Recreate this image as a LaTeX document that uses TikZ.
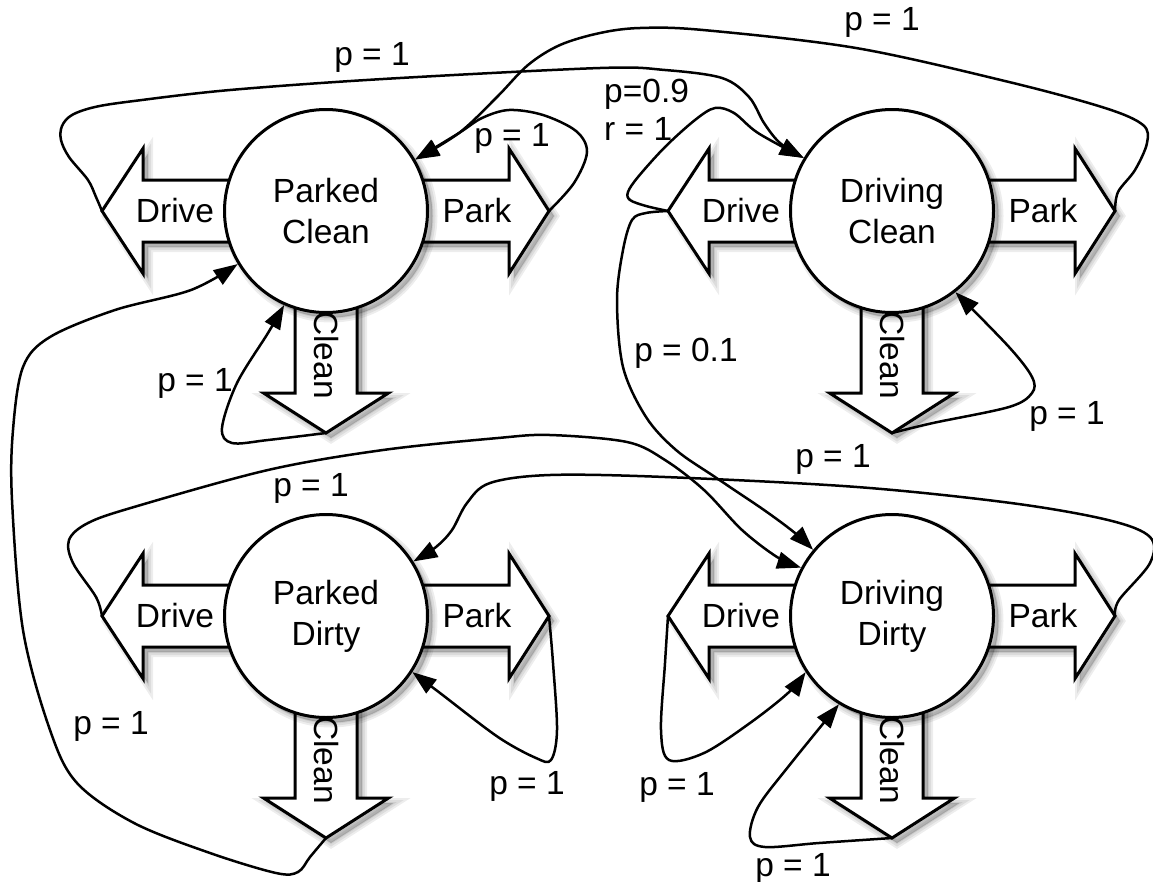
\documentclass[tikz,border=0pt]{standalone}
\usepackage{fontspec}
\setmainfont{Liberation Sans}
\usetikzlibrary{arrows.meta}

\newcommand\statefont{\fontsize{33.5}{41}\selectfont}

\tikzset{
  % soft grey shadow below and right of a shape, built from a few
  % translucent offset copies of the outline
  shadowcopy/.style={preaction={draw=black, fill=black, opacity=0.07,
      line width=#1, transform canvas={shift={(5pt,-5pt)}}}},
  softshadow/.style={shadowcopy=10pt, shadowcopy=6pt, shadowcopy=2pt},
  state/.style={circle, draw, line width=3pt, fill=white, minimum size=203pt,
      inner sep=0pt, align=center, font=\statefont, softshadow},
  blockarrow/.style={draw, line width=3pt, fill=white, line join=miter,
      softshadow},
  armlabel/.style={font=\statefont, inner sep=0pt},
  prob/.style={font=\statefont, inner sep=0pt},
  edge/.style={line width=2.5pt, -{Triangle[length=24pt,width=17pt]},
      line join=round},
}

% one state: block arrows for the three actions, then the state circle
% #1 name, #2 x, #3 y, #4 caption
\newcommand\carstate[4]{%
  \begin{scope}[shift={(#2,#3)}]
    \draw[blockarrow] (0,-31) -- (-183,-31) -- (-183,-62.5) -- (-224,0)
      -- (-183,62.5) -- (-183,31) -- (0,31) -- cycle;
    \draw[blockarrow] (0,-31) -- (183,-31) -- (183,-62.5) -- (223,0)
      -- (183,62.5) -- (183,31) -- (0,31) -- cycle;
    \draw[blockarrow] (-31,0) -- (-31,182) -- (-62.5,182) -- (0,222)
      -- (62.5,182) -- (31,182) -- (31,0) -- cycle;
    \coordinate (#1D) at (-224,0);
    \coordinate (#1P) at (223,0);
    \coordinate (#1C) at (0,222);
    \node[armlabel] (#1Dl) at (-151,0) {Drive};
    \node[armlabel] (#1Pl) at (151,0) {Park};
    \node[armlabel, rotate=-90] (#1Cl) at (0,144) {Clean};
    \node[state] (#1) at (0,0) {#4};
  \end{scope}}

\begin{document}
\begin{tikzpicture}[x=1pt, y=-1pt]
\useasboundingbox (0,0) rectangle (1153,881);

\carstate{pc}{326}{211}{Parked\\Clean}
\carstate{dc}{892}{211}{Driving\\Clean}
\carstate{pd}{326}{616}{Parked\\Dirty}
\carstate{dd}{892}{616}{Driving\\Dirty}

% transitions out of Parked Clean
\draw[edge] plot[smooth, tension=0.55] coordinates {(pcD) (96,197) (88,180)
  (69,157) (61,140) (62,126) (72,115) (95,107) (134,101) (230,90) (383,79)
  (600,68) (665,70) (722,78) (749,97) (764,123) (780,143) (dc.149)};
\draw[edge] plot[smooth, tension=0.55] coordinates {(pcP) (574,183) (587,152)
  (576,131) (543,115) (509,110) (482,118) (459,133) (pc.30)};
\draw[edge] plot[smooth, tension=0.55] coordinates {(pcC) (268,440) (232,443)
  (222,428) (237,383) (268,333) (pc.246)};

% transitions out of Driving Clean
\draw[edge] plot[smooth, tension=0.55] coordinates {(dcP) (1118,192)
  (1135,170) (1147,143) (1143,125) (1105,108) (1009,82) (856,48) (703,30)
  (640,28) (600,33) (560,45) (528,65) (497,97) (459,133) (pc.30)};
\draw[edge] plot[smooth, tension=0.55] coordinates {(dcD) (646,206) (630,200)
  (628,192) (638,177) (665,147) (695,120) (715,108) (734,113) (758,133)
  (dc.149)};
\draw[edge] plot[smooth, tension=0.55] coordinates {(dcD) (646,213) (632,220)
  (623,250) (617,300) (623,367) (646,417) (676,450) (715,477) (764,510)
  (795,533) (dd.140)};
\draw[edge] plot[smooth, tension=0.55] coordinates {(dcC) (933,423)
  (1009,407) (1032,393) (1032,377) (1009,347) (dc.308)};

% transitions out of Parked Dirty
\draw[edge] plot[smooth, tension=0.55] coordinates {(pdD) (96,597) (73,563)
  (69,540) (88,523) (134,507) (268,470) (383,450) (498,438) (550,435)
  (627,442) (665,460) (704,490) (742,530) (777,557) (dd.152)};
\draw[edge] plot[smooth, tension=0.55] coordinates {(pdP) (553,663)
  (557,730) (551,760) (536,758) (498,737) (440,693) (pd.327)};
\draw[edge] plot[smooth, tension=0.55] coordinates {(pdC) (310,857)
  (298,872) (276,873) (210,853) (134,823) (77,783) (50,730) (23,630)
  (12,500) (13,430) (23,367) (50,337) (115,310) (191,290) (pc.211)};

% transitions out of Driving Dirty
\draw[edge] plot[smooth, tension=0.55] coordinates {(ddP) (1119,600)
  (1150,563) (1150,537) (1108,520) (1011,503) (857,487) (665,477) (550,475)
  (490,483) (467,503) (452,530) (436,547) (pd.32)};
\draw[edge] plot[smooth, tension=0.55] coordinates {(ddD) (665,663)
  (661,730) (669,760) (704,753) (750,723) (788,693) (dd.213)};
\draw[edge] plot[smooth, tension=0.55] coordinates {(ddC) (819,843)
  (765,847) (750,837) (758,807) (788,767) (dd.239)};

% probabilities and reward
\node[prob] (l1) at (372,57) {p = 1};
\node[prob] (l2) at (882,22) {p = 1};
\node[prob] (l3) at (512,138) {p = 1};
\node[prob] (l4) at (195,383) {p = 1};
\node[prob] (l5) at (111,726) {p = 1};
\node[prob, align=left, anchor=west, font=\fontsize{33.5}{38}\selectfont] (l6)
  at (604,110) {p=0.9\\r = 1};
\node[prob] (l7) at (686,353) {p = 0.1};
\node[prob] (l8) at (1067,416) {p = 1};
\node[prob] (l9) at (311,488) {p = 1};
\node[prob] (l10) at (833,459) {p = 1};
\node[prob] (l11) at (527,786) {p = 1};
\node[prob] (l12) at (677,787) {p = 1};
\node[prob] (l13) at (793,868) {p = 1};
\end{tikzpicture}
\end{document}
